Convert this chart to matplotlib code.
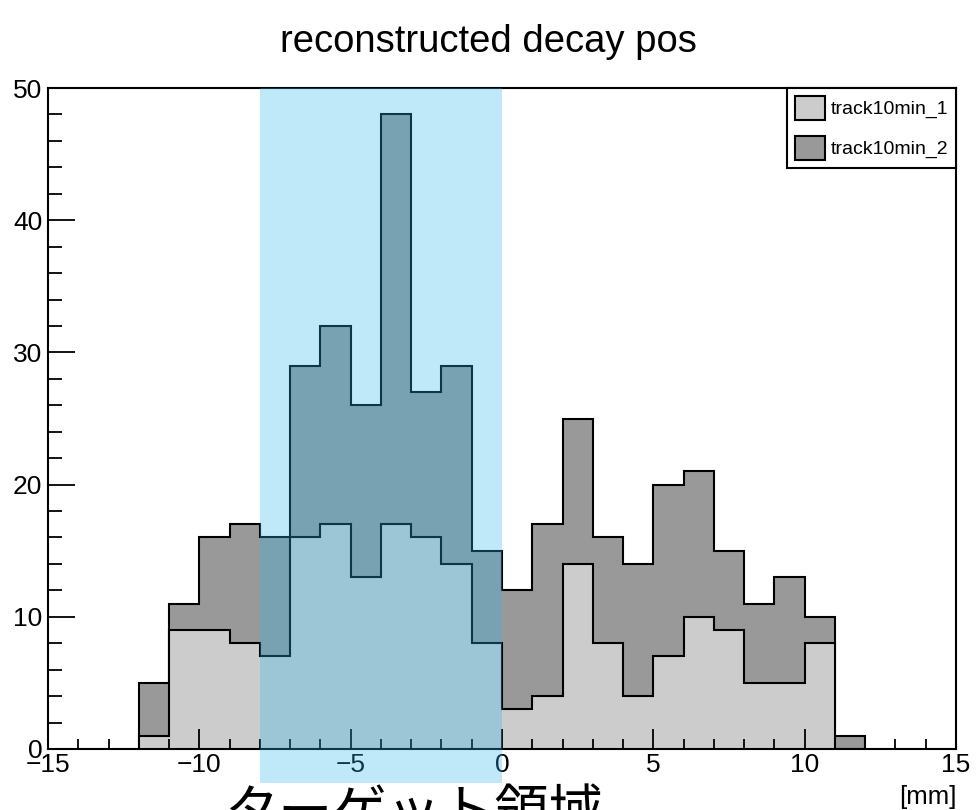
import numpy as np
import matplotlib.pyplot as plt
from matplotlib.patches import Rectangle
from matplotlib.ticker import MultipleLocator

plt.rcParams['font.family'] = ['Liberation Sans', 'DejaVu Sans']

# bin edges [mm] and counts per 1 mm bin
edges = np.arange(-12, 13)
track1 = [1, 9, 9, 8, 7, 16, 17, 13, 17, 16, 14, 8, 3, 4, 14, 8, 4, 7, 10, 9, 5, 5, 8, 0]
track2 = [5, 11, 16, 17, 16, 29, 32, 26, 48, 27, 29, 15, 12, 17, 25, 16, 14, 20, 21, 15, 11, 13, 10, 1]
labels = ['track10min_1', 'track10min_2']
colors = ['#cccccc', '#999999']
target = (-8, 0)  # target region [mm]

fig = plt.figure(figsize=(9.76, 8.10), dpi=100)
ax = fig.add_axes([48/976, 1-749/810, 908/976, 661/810])

ax.stairs(track2, edges, fill=True, facecolor=colors[1], edgecolor='black', linewidth=1.5)
ax.stairs(track1, edges, fill=True, facecolor=colors[0], edgecolor='black', linewidth=1.5)

ax.set_xlim(-15, 15)
ax.set_ylim(0, 50)
ax.xaxis.set_major_locator(MultipleLocator(5))
ax.xaxis.set_minor_locator(MultipleLocator(1))
ax.yaxis.set_major_locator(MultipleLocator(10))
ax.yaxis.set_minor_locator(MultipleLocator(2))
ax.tick_params(axis='x', which='major', direction='in', length=14.5, width=1.3, labelsize=19, pad=3)
ax.tick_params(axis='x', which='minor', direction='in', length=7.5, width=1.3)
ax.tick_params(axis='y', which='major', direction='in', length=19.5, width=1.3, labelsize=19, pad=4)
ax.tick_params(axis='y', which='minor', direction='in', length=10, width=1.3)
for sp in ax.spines.values():
    sp.set_linewidth(1.5)

# shaded target region, reaching below the axis
ybot = -2.55
ax.add_patch(Rectangle((target[0], ybot), target[1]-target[0], 50-ybot,
                       facecolor=(45/255, 185/255, 235/255), alpha=0.3,
                       edgecolor='none', clip_on=False, zorder=3))

handles = [Rectangle((0, 0), 1, 1, facecolor=c, edgecolor='black', linewidth=1.5) for c in colors]
leg = ax.legend(handles, labels, loc='upper right', bbox_to_anchor=(1, 1), borderaxespad=0,
                fontsize=14, fancybox=False, edgecolor='black', framealpha=1,
                handlelength=1.55, handleheight=1.5, handletextpad=0.3,
                borderpad=0.4, labelspacing=0.85)
leg.get_frame().set_linewidth(1.5)
leg.set_zorder(5)

fig.text(0.5, 1-42/810, 'reconstructed decay pos', ha='center', va='center', fontsize=27.5)
fig.text(957/976, 1-797/810, '[mm]', ha='right', va='center', fontsize=18.5)
fig.text(224/976, 1-786/810, 'ターゲット領域', ha='left', va='top', fontsize=39,
         family=['Noto Sans CJK JP', 'DejaVu Sans'])

fig.savefig('out.png', dpi=100)
